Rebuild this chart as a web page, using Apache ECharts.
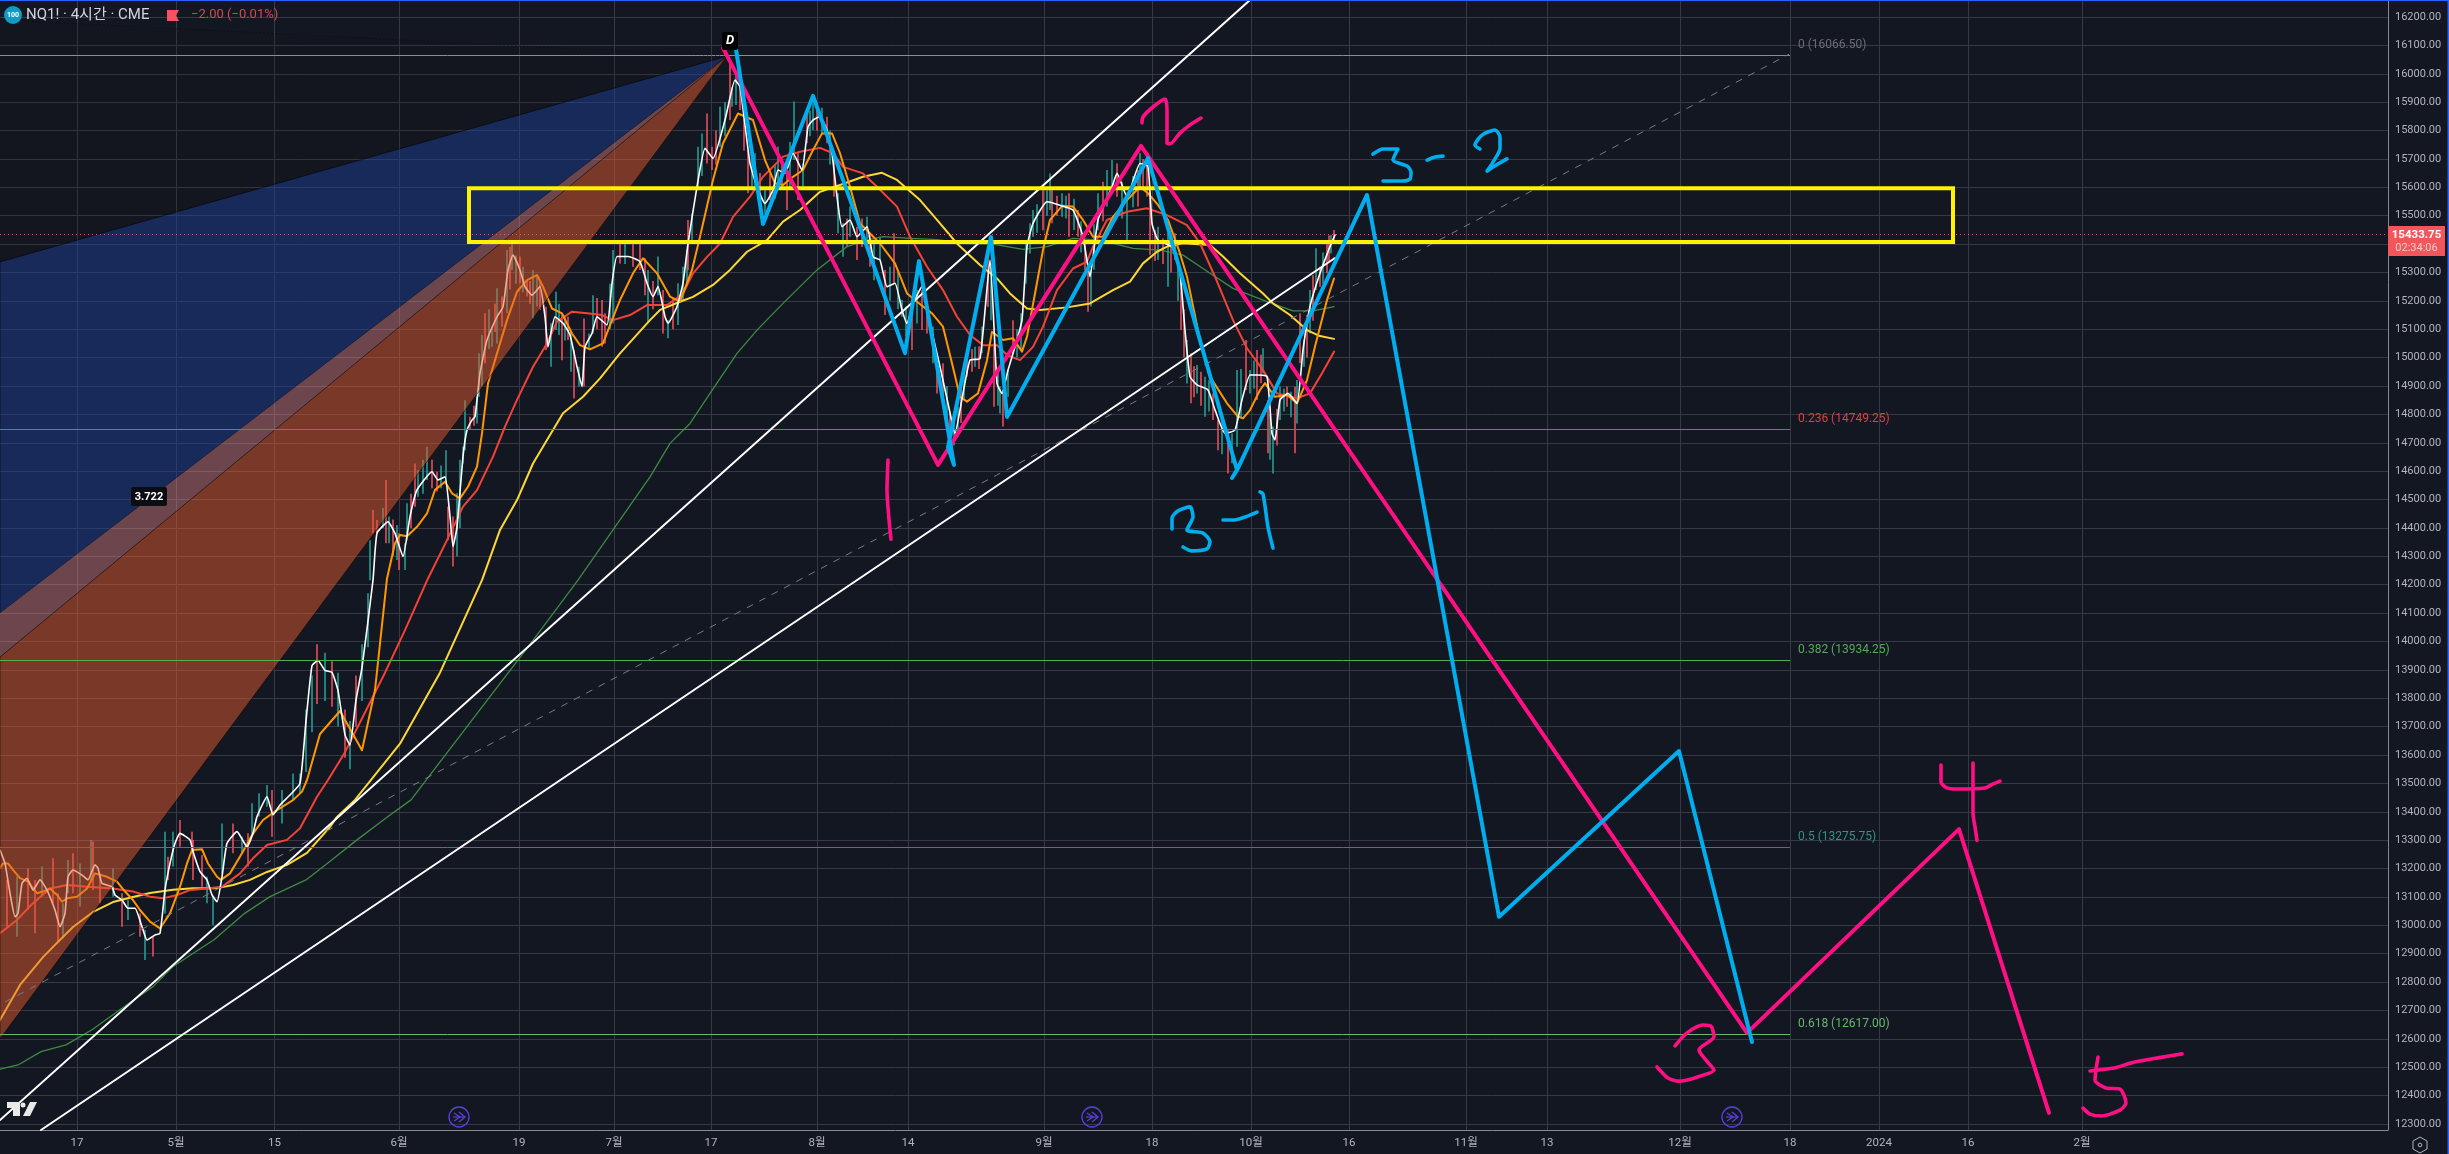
<!DOCTYPE html>
<html><head><meta charset="utf-8">
<style>html,body{margin:0;padding:0;background:#131722}#c{width:2449px;height:1154px}</style>
<script src="https://cdn.jsdelivr.net/npm/echarts@6/dist/echarts.min.js"></script>
</head><body><div id="c"></div>
<script>
// ---- axes ----
var priceMin = 12278.9, priceMax = 16259.9, timeMax = 2388;
var priceTicks = [12300,12400,12500,12600,12700,12800,12900,13000,13100,13200,13300,13400,13500,13600,13700,13800,13900,14000,14100,14200,14300,14400,14500,14600,14700,14800,14900,15000,15100,15200,15300,15400,15500,15600,15700,15800,15900,16000,16100,16200];
var timeTicks = [77,176,274.5,399,519,614,711,817,908,1044,1152,1251,1349,1466,1547,1680,1790,1879,1968,2082];
var timeLabels = ['17','5월','15','6월','19','7월','17','8월','14','9월','18','10월','16','11월','13','12월','18','2024','16','2월'];
var lastPrice = 15433.75;
// ---- fib levels ----
var fibPrices = [16066.5,14749.25,13934.25,13275.75,12617];
var fibTexts = ['0 (16066.50)','0.236 (14749.25)','0.382 (13934.25)','0.5 (13275.75)','0.618 (12617.00)'];
var fibEnd = 1790;
// ---- candles: time, low, high, up ----
var candles = [[7,12995,13160,0],[17,12960,13171,1],[28,13054,13201,0],[35,12972,13160,0],[42,13101,13207,1],[53,13078,13236,0],[58,12937,13113,0],[63,12954,13078,1],[68,13113,13230,1],[73,13113,13254,0],[80,13066,13218,1],[91,13160,13301,1],[93,13124,13295,0],[100,13078,13183,0],[113,13101,13201,1],[122,12995,13113,0],[128,13019,13089,1],[140,12960,13042,0],[145,12878,12984,1],[153,12890,12960,0],[165,13042,13330,1],[168,13160,13242,0],[173,13207,13330,1],[180,13277,13371,0],[192,13254,13330,0],[193,13160,13301,0],[202,13136,13248,0],[207,13078,13171,1],[213,13001,13101,1],[222,13183,13359,1],[233,13254,13359,0],[242,13254,13312,1],[248,13207,13324,0],[252,13312,13430,1],[259,13383,13465,1],[267,13418,13494,1],[272,13312,13477,0],[282,13359,13477,1],[293,13442,13535,1],[300,13465,13535,1],
[306,13540,13760,1],[312,13680,13880,1],[317,13780,13990,0],[325,13790,13960,1],[332,13770,13930,0],[338,13700,13890,1],[345,13590,13760,0],[350,13550,13720,1],[356,13700,13880,0],[362,13790,13990,1],[368,13980,14170,1],
[370,14216,14357,1],[373,14381,14463,0],[377,14381,14428,0],[383,14400,14470,1],[386,14346,14569,0],[389,14346,14440,1],[393,14300,14430,0],[397,14287,14410,1],[399,14252,14381,0],[405,14252,14346,1],[407,14357,14487,1],[411,14400,14520,0],[415,14475,14627,0],[418,14510,14604,1],[423,14520,14640,1],[427,14569,14686,1],[432,14540,14640,0],[437,14528,14598,0],[441,14540,14620,1],[446,14557,14674,1],[448,14357,14475,0],[453,14264,14440,0],[457,14299,14522,1],[460,14400,14640,1],[463,14627,14686,1],[465,14674,14850,1],[470,14745,14792,0],[474,14760,14830,0],[477,14768,14862,1],[479,14862,15015,1],[482,14900,15080,1],[485,14980,15156,0],[489,15030,15170,1],[492,15038,15109,1],[495,15090,15190,0],[497,15050,15244,1],[502,15109,15215,0],[507,15156,15379,1],[510,15240,15390,0],[512,15309,15414,1],[516,15260,15360,1],[520,15262,15356,0],[523,15230,15320,1],[527,15215,15273,0],[530,15190,15270,0],[533,15138,15309,1],[537,15180,15290,1],[540,15168,15273,0],[546,15027,15179,0],[551,14968,15121,1],[556,15097,15232,1],[559,15080,15190,1],[562,14991,15156,0],[565,15060,15150,1],[568,15062,15144,0],[571,14950,15090,1],[574,14856,15027,0],[579,14898,14968,1],[584,14898,15138,0],[589,15027,15085,1],[593,15085,15220,1],[597,15100,15210,0],[602,15038,15203,0],[605,15050,15156,0],[610,15100,15260,1],[613,15121,15379,1],[620,15332,15400,0],[625,15330,15400,1],[633,15320,15400,0],[640,15309,15400,0],[645,15220,15350,0],[648,15121,15309,1],[653,15170,15270,0],[658,15220,15356,1],[663,15085,15238,0],[668,15068,15132,1],[673,15100,15210,0],[678,15115,15262,1],[683,15200,15320,1],[687,15262,15379,1],
[688,15308,15485,0],[692,15402,15508,1],[698,15590,15743,1],[702,15640,15790,1],[707,15684,15860,0],[712,15661,15743,0],[716,15680,15800,0],[720,15743,15884,1],[725,15780,15900,1],[730,15837,16037,0],[732,15884,15954,1],[736,15890,16010,1],[740,15872,15954,0],[744,15730,15900,0],[748,15579,15731,0],[752,15600,15710,1],[755,15590,15720,1],[760,15520,15650,0],[765,15508,15590,1],[770,15555,15649,0],[775,15560,15680,1],[778,15602,15743,1],[782,15600,15700,0],[787,15520,15649,0],[790,15600,15760,1],[794,15696,15902,1],[798,15555,15720,0],[803,15602,15684,1],[807,15755,15860,0],[810,15780,15870,1],[813,15802,15896,1],[817,15800,15900,0],[822,15790,15880,1],[827,15755,15849,0],[830,15680,15800,1],[834,15567,15708,0],[838,15438,15579,1],[843,15355,15473,1],[847,15390,15490,0],[850,15426,15532,1],[857,15344,15461,0],[862,15390,15490,0],[867,15402,15496,1],[870,15320,15440,0],[874,15273,15402,1],[880,15344,15426,1],[885,15150,15309,0],[890,15200,15320,1],[894,15262,15438,0],[898,15170,15300,1],[902,15144,15203,1],[906,15074,15179,1],[912,15027,15203,0],[917,15120,15240,1],[922,15097,15238,0],[927,15085,15179,0],[933,14980,15110,1],[937,14874,14991,0],[943,14862,14980,0],[947,14790,14900,1],[950,14710,14803,0],[954,14690,14780,1],[958,14721,14827,1],[961,14770,14900,0],[964,14850,14956,1],[967,14933,15015,0],[972,14950,15030,0],[975,14968,15038,1],[979,14960,15040,0],[982,15015,15109,1],[988,15179,15379,0],[991,15132,15332,1],[994,14827,15050,0],[998,14830,14950,1],[1000,14803,14898,1],[1003,14757,14886,0],[1008,14862,14956,1],[1013,15015,15132,0],[1017,15000,15100,1],[1021,15027,15156,1],[1026,15261,15402,1],[1030,15367,15473,1],[1033,15426,15520,1],[1037,15440,15540,1],[1043,15449,15590,0],[1047,15500,15590,1],[1050,15520,15649,1],[1052,15473,15590,0],[1057,15500,15570,0],[1062,15496,15579,1],[1066,15490,15570,1],[1069,15426,15579,0],[1074,15450,15560,1],[1078,15426,15520,0],[1081,15370,15480,1],[1085,15309,15414,0],[1088,15162,15297,0],[1091,15180,15310,1],[1094,15310,15470,1],[1098,15449,15579,1],[1103,15480,15620,0],[1107,15532,15661,1],[1112,15602,15696,1],[1117,15567,15684,0],[1122,15490,15620,1],[1127,15414,15567,1],[1133,15530,15640,1],[1138,15532,15661,0],[1140,15602,15720,1],[1143,15600,15700,0],[1147,15567,15696,0],
[1150,15362,15579,0],[1155,15340,15450,0],[1158,15344,15461,1],[1163,15330,15420,0],[1168,15250,15438,1],[1171,15300,15430,0],[1175,15344,15438,0],[1178,15200,15340,1],[1181,15097,15285,0],[1184,15000,15170,0],[1187,14909,15062,1],[1191,14839,15015,0],[1194,14860,14970,0],[1197,14874,14974,1],[1201,14830,14950,0],[1205,14792,14933,1],[1209,14810,14920,1],[1213,14780,14874,0],[1218,14674,14780,0],[1222,14660,14790,1],[1228,14592,14745,0],[1232,14628,14733,1],[1237,14686,14956,1],[1241,14790,14960,1],[1246,14886,15062,0],[1250,14874,14956,1],[1254,14890,14990,1],[1257,14851,15027,0],[1261,14910,15010,0],[1263,14945,15033,1],[1268,14663,14851,0],[1270,14640,14800,1],[1273,14592,14757,1],[1277,14690,14820,0],[1280,14780,14898,1],[1284,14810,14890,1],[1287,14827,14898,0],[1291,14790,14880,1],[1295,14663,14897,0],[1297,14768,14921,1],[1300,14980,15156,0],[1304,14968,15062,1],[1307,15000,15150,0],[1310,15085,15238,1],[1313,15130,15290,0],[1316,15238,15385,1],[1320,15250,15320,0],[1323,15260,15370,1],[1327,15297,15403,0],[1329,15340,15430,0],[1331,15367,15432,1],[1334,15403,15450,0]];
// ---- lines ----
var closeLine = [[0,13265],[5,13218],[10,13113],[15,13030],[18,13042],[22,13148],[27,13166],[33,13124],[40,13160],[47,13124],[55,13054],[60,12995],[65,13042],[68,13171],[73,13195],[82,13177],[88,13160],[95,13213],[98,13201],[102,13148],[112,13136],[115,13107],[122,13089],[128,13060],[135,13060],[142,12995],[147,12948],[155,12966],[160,12972],[165,13124],[170,13218],[175,13289],[180,13324],[190,13301],[193,13260],[200,13189],[207,13160],[212,13107],[217,13083],[222,13171],[227,13289],[237,13330],[247,13277],[253,13324],[257,13383],[267,13453],[273,13389],[280,13424],[290,13459],[300,13500],[306,13720],[312,13915],[318,13933],[325,13898],[332,13891],[338,13827],[345,13671],[350,13635],[356,13794],[362,13908],[373,14216],[377,14381],[388,14422],[395,14381],[403,14299],[410,14440],[417,14534],[432,14598],[438,14569],[445,14580],[450,14440],[453,14334],[457,14404],[463,14651],[467,14745],[472,14780],[475,14792],[480,14945],[487,15062],[497,15144],[503,15179],[508,15309],[513,15361],[520,15309],[525,15250],[532,15220],[540,15250],[545,15144],[548,15038],[555,15144],[563,15121],[570,15080],[577,14968],[582,14898],[585,15038],[592,15086],[597,15144],[607,15115],[612,15262],[617,15356],[628,15356],[640,15338],[647,15262],[653,15215],[658,15250],[665,15144],[668,15121],[677,15180],[683,15262],[688,15402],[697,15602],[705,15737],[713,15702],[725,15837],[735,15978],[740,15954],[750,15684],[757,15602],[765,15543],[773,15590],[778,15661],[785,15649],[793,15720],[802,15661],[808,15813],[813,15837],[820,15849],[827,15802],[832,15720],[837,15567],[842,15461],[850,15485],[857,15426],[867,15461],[873,15355],[880,15344],[887,15250],[895,15262],[902,15168],[907,15120],[913,15191],[922,15250],[930,15121],[940,14968],[948,14839],[955,14733],[963,14874],[970,14991],[980,14997],[990,15344],[997,14909],[1002,14874],[1008,14956],[1015,15038],[1022,15132],[1027,15391],[1033,15473],[1047,15549],[1060,15537],[1073,15520],[1083,15426],[1090,15285],[1098,15485],[1112,15602],[1117,15649],[1127,15567],[1140,15684],[1148,15673],[1152,15473],[1158,15414],[1172,15391],[1180,15297],[1185,15097],[1190,14933],[1197,14904],[1208,14886],[1215,14816],[1225,14733],[1235,14745],[1242,14851],[1250,14939],[1258,14939],[1267,14933],[1272,14733],[1275,14710],[1280,14851],[1288,14874],[1297,14839],[1303,15027],[1310,15180],[1320,15297],[1330,15391],[1335,15432]];
var orangeLine = [[0,13201],[3,13218],[8,13218],[13,13195],[20,13166],[28,13154],[37,13113],[43,13119],[50,13130],[57,13107],[62,13083],[67,13095],[77,13101],[87,13130],[95,13183],[107,13171],[117,13154],[125,13119],[133,13089],[140,13054],[150,13013],[160,12989],[170,13042],[180,13136],[187,13218],[192,13265],[202,13268],[208,13218],[217,13171],[221,13160],[230,13183],[243,13260],[252,13318],[263,13371],[277,13406],[293,13441],[302,13471],[307,13512],[320,13674],[340,13755],[362,13617],[375,13829],[387,14222],[395,14346],[400,14375],[407,14371],[417,14404],[427,14451],[435,14534],[445,14563],[452,14522],[460,14504],[468,14545],[477,14616],[482,14733],[488,14909],[497,15015],[507,15132],[517,15232],[527,15273],[537,15291],[543,15250],[552,15173],[562,15156],[572,15085],[580,15044],[590,15029],[603,15050],[612,15132],[620,15203],[633,15297],[643,15350],[657,15297],[670,15215],[680,15197],[692,15309],[700,15426],[713,15626],[723,15755],[738,15860],[753,15837],[765,15696],[775,15614],[783,15608],[793,15637],[803,15661],[813,15731],[822,15790],[832,15790],[840,15720],[850,15602],[860,15473],[880,15402],[895,15332],[907,15226],[917,15197],[932,15156],[943,15109],[952,14980],[960,14862],[967,14845],[978,14874],[987,14991],[992,15091],[1003,15062],[1013,15068],[1022,15021],[1027,15074],[1035,15226],[1043,15379],[1050,15485],[1062,15534],[1073,15532],[1083,15485],[1093,15426],[1103,15426],[1113,15496],[1127,15555],[1140,15602],[1148,15579],[1158,15538],[1168,15485],[1180,15367],[1187,15285],[1200,15062],[1210,14933],[1227,14839],[1238,14792],[1243,14786],[1250,14815],[1260,14886],[1265,14910],[1275,14862],[1287,14868],[1297,14839],[1307,14921],[1315,15039],[1327,15203],[1334,15279]];
var redLine = [[0,12972],[17,13019],[33,13078],[50,13130],[67,13142],[87,13136],[113,13130],[133,13119],[150,13101],[163,13095],[177,13107],[190,13124],[207,13130],[222,13136],[240,13183],[253,13236],[267,13283],[287,13301],[300,13342],[317,13453],[328,13512],[345,13610],[365,13750],[385,13890],[405,14040],[428,14222],[447,14357],[463,14475],[477,14533],[493,14651],[505,14757],[517,14851],[533,14968],[547,15050],[557,15127],[572,15162],[587,15156],[602,15150],[613,15132],[630,15150],[647,15185],[667,15185],[683,15226],[693,15297],[707,15355],[720,15402],[733,15496],[750,15567],[763,15637],[783,15708],[800,15725],[820,15739],[833,15720],[843,15672],[863,15649],[877,15602],[897,15532],[910,15426],[927,15320],[943,15238],[957,15144],[970,15080],[983,15044],[997,15044],[1007,15009],[1020,14991],[1033,15038],[1043,15109],[1057,15238],[1073,15314],[1087,15338],[1093,15391],[1107,15485],[1127,15514],[1147,15526],[1167,15502],[1187,15467],[1200,15403],[1215,15285],[1233,15132],[1247,15033],[1263,14956],[1277,14874],[1297,14857],[1310,14874],[1322,14945],[1334,15021]];
var yellowLine = [[0,12666],[20,12790],[43,12888],[57,12938],[73,12994],[93,13047],[113,13082],[133,13100],[150,13114],[173,13125],[193,13131],[217,13131],[233,13142],[250,13160],[267,13188],[287,13213],[307,13255],[330,13347],[337,13382],[355,13442],[400,13640],[440,13890],[482,14216],[500,14393],[517,14498],[533,14627],[547,14710],[563,14804],[583,14862],[600,14927],[620,15015],[650,15132],[660,15168],[680,15197],[693,15214],[713,15256],[730,15309],[747,15373],[767,15414],[783,15479],[800,15520],[820,15584],[840,15608],[863,15637],[882,15651],[897,15626],[920,15555],[937,15485],[957,15402],[980,15326],[997,15279],[1010,15226],[1027,15173],[1040,15168],[1067,15177],[1090,15191],[1113,15238],[1130,15268],[1143,15332],[1157,15373],[1167,15391],[1183,15403],[1210,15397],[1223,15356],[1240,15297],[1263,15226],[1273,15191],[1290,15150],[1307,15097],[1320,15076],[1334,15066]];
var greenLine = [[0,12493],[18,12508],[41,12555],[66,12579],[92,12632],[122,12708],[153,12784],[173,12855],[214,12949],[245,13043],[270,13101],[306,13160],[332,13231],[357,13301],[388,13383],[411,13442],[480,13760],[530,13990],[578,14216],[613,14393],[650,14580],[670,14698],[690,14768],[710,14874],[737,15015],[757,15097],[783,15191],[817,15309],[847,15391],[867,15414],[883,15426],[910,15420],[937,15416],[967,15402],[993,15400],[1023,15381],[1047,15391],[1073,15420],[1100,15414],[1133,15385],[1160,15379],[1183,15361],[1210,15297],[1233,15244],[1267,15197],[1293,15165],[1313,15165],[1334,15180]];
// ---- trend lines and fan ----
var trendA = [[0,12314],[1250,16260]];
var trendB = [[41,12279],[1335,15351]];
var dashedTrend = [[5,12730],[1789,16069]];
var fanApex = [727,16062];
var fanTopDotted = 16190, fanBlueTop = 15337, fanBandTop = 14100, fanBandBottom = 13945, fanBottom = 12600;
// ---- drawn on top ----
var boxTime = [469,1953], boxPrice = [15597,15407];
var pinkWave = [[723,16091],[938,14622],[1141,15746],[1747,12621],[1959,13339],[2049,12339]];
var blueWave = [[736,16087],[763,15471],[813,15922],[905,15016],[919,15340],[954,14622],[948,14685],[991,15425],[1007,14791],[1148,15703],[1237,14604],[1232,14576],[1237,14604],[1367,15573],[1499,13030],[1679,13614],[1752,12589]];
var pinkStrokes = [
 [[888,14639],[887,14534],[889,14430],[891,14360]],
 [[1142,15827],[1143,15848],[1153,15883],[1165,15911],[1167,15872],[1167,15756],[1170,15753],[1180,15791],[1190,15820],[1201,15844]],
 [[1675,12575],[1687,12621],[1703,12649],[1711,12645],[1714,12607],[1699,12561],[1706,12525],[1714,12490],[1697,12465],[1679,12451],[1668,12462],[1657,12501]],
 [[1941,13565],[1941,13505],[1947,13484],[1957,13480],[1985,13484],[1993,13498],[2000,13508]],
 [[1973,13572],[1973,13396],[1975,13346],[1977,13300]],
 [[2090,12487],[2114,12497],[2131,12515],[2158,12533],[2182,12547]],
 [[2098,12536],[2095,12455],[2106,12427],[2120,12423],[2126,12374],[2120,12349],[2101,12328],[2090,12335],[2083,12356]]
];
var blueStrokes = [
 [[1373,15717],[1383,15735],[1398,15735],[1393,15696],[1407,15675],[1411,15654],[1410,15629],[1402,15622],[1383,15622]],
 [[1427,15696],[1435,15707],[1443,15710]],
 [[1480,15735],[1475,15749],[1482,15784],[1495,15802],[1500,15777],[1500,15738],[1493,15689],[1487,15657],[1498,15682],[1507,15700]],
 [[1172,14396],[1172,14435],[1178,14460],[1190,14474],[1193,14439],[1187,14393],[1203,14382],[1210,14351],[1207,14326],[1192,14319],[1183,14333]],
 [[1223,14428],[1233,14428],[1257,14456]],
 [[1260,14527],[1263,14520],[1268,14403],[1273,14329]]
];

var FONT = "Roboto, 'Noto Sans CJK KR', sans-serif";
var fibColors = ['#8a8d98','#f44336','#4caf50','#089981','#66bb6a'];
var fibTextColors = ['#6a6d78','#d8433c','#58a85c','#2f9484','#66b86a'];
var PINK = '#ff0f84', CYAN = '#00aeef';

function line(data, color, width, z, extra) {
  return Object.assign({type:'line', data:data, showSymbol:false, symbol:'none', silent:true, z:z, clip:true, animation:false,
    lineStyle:{color:color,width:width,cap:'round',join:'round'}}, extra||{});
}
function fanPoly(topLeft, bottomLeft){ return [[0,topLeft],[fanApex[0],fanApex[1]],[0,bottomLeft]]; }
var fanBands = [
  {pts:fanPoly(fanTopDotted,fanBlueTop), fill:'rgba(20,18,18,0.15)', edge:'transparent'},
  {pts:fanPoly(fanBlueTop,fanBandTop), fill:'rgba(29,61,146,0.5)', edge:'rgba(0,0,0,0.5)'},
  {pts:fanPoly(fanBandTop,fanBandBottom), fill:'rgba(231,137,136,0.42)', edge:'transparent'},
  {pts:fanPoly(fanBandBottom,fanBottom), fill:'rgba(225,91,46,0.5)', edge:'rgba(0,0,0,0.5)'}
];

var series = [];
series.push({type:'custom', z:3, silent:true, animation:false, clip:true, data:candles, encode:{x:0,y:[1,2]},
  renderItem:function(p,api){
    var a=api.coord([api.value(0),api.value(1)]), b=api.coord([api.value(0),api.value(2)]);
    return {type:'line', shape:{x1:a[0],y1:a[1],x2:b[0],y2:b[1]}, style:{stroke:api.value(3)?'#26a69a':'#f7525f', lineWidth:1.5}};
  }});
series.push(line(greenLine,'#3d8b40',1.3,4));
series.push(line(yellowLine,'#fdd835',2,4));
series.push(line(redLine,'#f44336',2,4));
series.push(line(orangeLine,'#ff9800',2,4));
series.push(line(closeLine,'#ffffff',1.6,4,{smooth:0.15}));
series.push({type:'custom', z:5, silent:true, animation:false, clip:true, data:fanBands.map(function(b,i){return [i];}), encode:{x:0},
  renderItem:function(p,api){
    var b=fanBands[p.dataIndex];
    return {type:'polygon', shape:{points:b.pts.map(function(q){return api.coord(q);})}, style:{fill:b.fill, stroke:b.edge, lineWidth:1}};
  }});
series.push({type:'custom', z:6, silent:true, animation:false, data:fibPrices.map(function(v,i){return [fibEnd,v,i];}), encode:{x:0,y:1},
  renderItem:function(p,api){
    var i=api.value(2), e=api.coord([fibEnd,api.value(1)]), s=api.coord([0,api.value(1)]);
    var yy=Math.round(e[1])+0.5;
    return {type:'group', children:[
      {type:'line', shape:{x1:s[0],y1:yy,x2:e[0],y2:yy}, style:{stroke:fibColors[i],lineWidth:1}},
      {type:'text', style:{x:e[0]+8,y:e[1]-10,text:fibTexts[i],fill:fibTextColors[i],font:"12px "+FONT,textAlign:'left',textVerticalAlign:'middle'}}
    ]};
  }});
series.push(line([[0,lastPrice],[timeMax,lastPrice]],'#f7525f',1,6,{lineStyle:{color:'#f7525f',width:1,type:[1,3]}}));
series.push(line(dashedTrend,'#787b86',1,7,{lineStyle:{color:'#787b86',width:1,type:[7,7]}}));
series.push(line(trendA,'#ffffff',2,7));
series.push(line(trendB,'#ffffff',2,7));
series.push(line([[0,fanTopDotted],fanApex],'#000000',1,7,{lineStyle:{color:'rgba(5,7,12,0.6)',width:1,type:[1,3]}}));
series.push({type:'custom', z:8, silent:true, animation:false, data:[[boxTime[0],boxPrice[0]]], encode:{x:0,y:1},
  renderItem:function(p,api){
    var a=api.coord([boxTime[0],boxPrice[0]]), b=api.coord([boxTime[1],boxPrice[1]]);
    return {type:'rect', shape:{x:a[0],y:a[1],width:b[0]-a[0],height:b[1]-a[1]}, style:{fill:'none',stroke:'#fff200',lineWidth:4}};
  }});
series.push(line(pinkWave,PINK,4,9));
series.push(line(blueWave,CYAN,4,9));
pinkStrokes.forEach(function(s){series.push(line(s,PINK,3.6,9,{smooth:0.25}));});
blueStrokes.forEach(function(s){series.push(line(s,CYAN,3.6,9,{smooth:0.25}));});

function icon(cx,cy){return [
  {type:'circle',shape:{cx:cx,cy:cy,r:10},style:{fill:'none',stroke:'#5c3fe0',lineWidth:1.3},z:20},
  {type:'polyline',shape:{points:[[cx-5,cy-4],[cx+1,cy],[cx-5,cy+4]]},style:{fill:'none',stroke:'#5c3fe0',lineWidth:1.3},z:20},
  {type:'polyline',shape:{points:[[cx,cy-5],[cx+6,cy],[cx,cy+5]]},style:{fill:'none',stroke:'#5c3fe0',lineWidth:1.3},z:20},
  {type:'line',shape:{x1:cx-6,y1:cy,x2:cx+6,y2:cy},style:{stroke:'#5c3fe0',lineWidth:1.2},z:20}
];}
var graphics = [
  {type:'rect',shape:{x:0,y:0,width:2449,height:1},style:{fill:'#2962ff'},z:30},
  {type:'rect',shape:{x:2447.5,y:0,width:1.5,height:1154},style:{fill:'#2962ff'},z:30},
  {type:'circle',shape:{cx:13,cy:15,r:9},style:{fill:'#0f9bc4'},z:30},
  {type:'text',style:{x:13,y:15,text:'100',fill:'#fff',font:"bold 7px "+FONT,textAlign:'center',textVerticalAlign:'middle'},z:31},
  {type:'text',style:{x:26,y:15,text:'NQ1! · 4시간 · CME',fill:'#d1d4dc',font:"15px "+FONT,textAlign:'left',textVerticalAlign:'middle'},z:30},
  {type:'polygon',shape:{points:[[167,10],[179,10],[176,15.5],[179,21],[167,21]]},style:{fill:'#f7525f'},z:30},
  {type:'text',style:{x:191,y:15,text:'−2.00 (−0.01%)',fill:'#d04a50',font:"13px "+FONT,textAlign:'left',textVerticalAlign:'middle'},z:30},
  {type:'rect',shape:{x:722,y:32,width:16,height:18,r:2},style:{fill:'#000'},z:30},
  {type:'text',style:{x:730,y:41,text:'D',fill:'#fff',font:"italic bold 13px "+FONT,textAlign:'center',textVerticalAlign:'middle'},z:31},
  {type:'rect',shape:{x:131,y:487,width:36,height:19,r:2},style:{fill:'#0b0d12'},z:30},
  {type:'text',style:{x:149,y:497,text:'3.722',fill:'#fff',font:"bold 11px "+FONT,textAlign:'center',textVerticalAlign:'middle'},z:31},
  {type:'rect',shape:{x:2388,y:226,width:57,height:30},style:{fill:'#f2555a'},z:30},
  {type:'text',style:{x:2416.5,y:235,text:'15433.75',fill:'#fff',font:"bold 11.5px "+FONT,textAlign:'center',textVerticalAlign:'middle'},z:31},
  {type:'text',style:{x:2416.5,y:248,text:'02:34:06',fill:'#ffc9cc',font:"11px "+FONT,textAlign:'center',textVerticalAlign:'middle'},z:31},
  {type:'polygon',shape:{points:[[7,1102],[20,1102],[20,1116],[13,1116],[13,1108],[7,1108]]},style:{fill:'#e8e8e8'},z:30},
  {type:'circle',shape:{cx:23,cy:1105,r:2.5},style:{fill:'#e8e8e8'},z:30},
  {type:'polygon',shape:{points:[[30,1102],[37,1102],[30,1116],[23,1116]]},style:{fill:'#e8e8e8'},z:30},
  {type:'polygon',shape:{points:[[2420,1137],[2427,1141],[2427,1149],[2420,1153],[2413,1149],[2413,1141]]},style:{fill:'none',stroke:'#b2b5be',lineWidth:1},z:30},
  {type:'circle',shape:{cx:2420,cy:1145,r:1.8},style:{fill:'none',stroke:'#b2b5be',lineWidth:1},z:30}
].concat(icon(459,1117),icon(1092,1117),icon(1732,1117));

var chart = echarts.init(document.getElementById('c'),null,{renderer:'canvas'});
chart.setOption({
  animation:false, backgroundColor:'#131722',
  grid:{left:0,right:61,top:0,bottom:24,containLabel:false},
  xAxis:{type:'value',min:0,max:timeMax,position:'bottom',
    axisLine:{show:true,lineStyle:{color:'#868993',width:1}},
    axisTick:{show:false,customValues:timeTicks},
    axisLabel:{show:true,customValues:timeTicks,margin:7,color:'#b2b5be',fontSize:11.5,fontFamily:FONT,
      formatter:function(v){var i=timeTicks.indexOf(v);return i<0?'':timeLabels[i];}},
    splitLine:{show:true,lineStyle:{color:'#363a47',width:1}}},
  yAxis:{type:'value',min:priceMin,max:priceMax,position:'right',
    axisLine:{show:true,onZero:false,lineStyle:{color:'#868993',width:1}},
    axisTick:{show:false,customValues:priceTicks},
    axisLabel:{show:true,customValues:priceTicks,margin:7,color:'#b2b5be',fontSize:11,fontFamily:FONT,
      formatter:function(v){return v.toFixed(2);}},
    splitLine:{show:true,lineStyle:{color:'#363a47',width:1}}},
  series:series,
  graphic:{elements:graphics}
});
</script></body></html>
